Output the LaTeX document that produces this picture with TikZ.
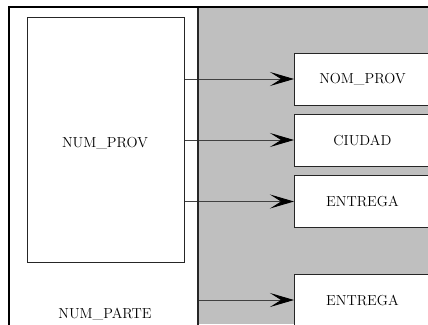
\documentclass[tikz,border=0pt]{standalone}
\usepackage{xcolor}
\usetikzlibrary{positioning,arrows.meta}
\begin{document}
\begin{tikzpicture}[x=1pt, y=-1pt,
    campo/.style={rectangle, draw=black!85, fill=white, line width=0.9pt, minimum width=136pt, minimum height=52pt, inner sep=0pt, anchor=west, font=\fontsize{14.5}{16}\selectfont},
    etiqueta/.style={font=\fontsize{14.5}{16}\selectfont},
    flecha/.style={-{Stealth[length=24pt, width=14pt, inset=11pt, color=black]}, draw=black!75, line width=0.9pt}]
    \useasboundingbox (0,0) rectangle (428,324);
    \clip (0,0) rectangle (428,324);
    \fill[white] (0,0) rectangle (428,324);
    \fill[black!25] (198,7) rectangle (428,324);

    \node[rectangle, fill=white, minimum width=189pt, minimum height=330pt, inner sep=0pt, anchor=north west] (parte) at (9,7) {};
    \node[rectangle, draw=black!85, line width=0.9pt, minimum width=157pt, minimum height=245pt, inner sep=0pt, anchor=north west] (prov) at (27,17) {};
    \node[etiqueta] (provtxt) at (105,143) {NUM\_PROV};
    \node[etiqueta] (partetxt) at (105,314) {NUM\_PARTE};

    \node[campo] (nomprov) at (294,79) {NOM\_PROV};
    \node[campo] (ciudad) at (294,140) {CIUDAD};
    \node[campo] (entrega) at (294,201.5) {ENTREGA};
    \node[campo] (entregab) at (294,300) {ENTREGA};

    \draw[flecha] (prov.east |- nomprov) -- (nomprov);
    \draw[flecha] (prov.east |- ciudad) -- (ciudad);
    \draw[flecha] (prov.east |- entrega) -- (entrega);
    \draw[flecha] (parte.east |- entregab) -- (entregab);

    \draw[line width=2pt, black!85] (parte.north east) -- (parte.south east);
    \draw[line width=2.5pt] (parte.south west) -- (parte.north west) -- (430,7);
\end{tikzpicture}
\end{document}
